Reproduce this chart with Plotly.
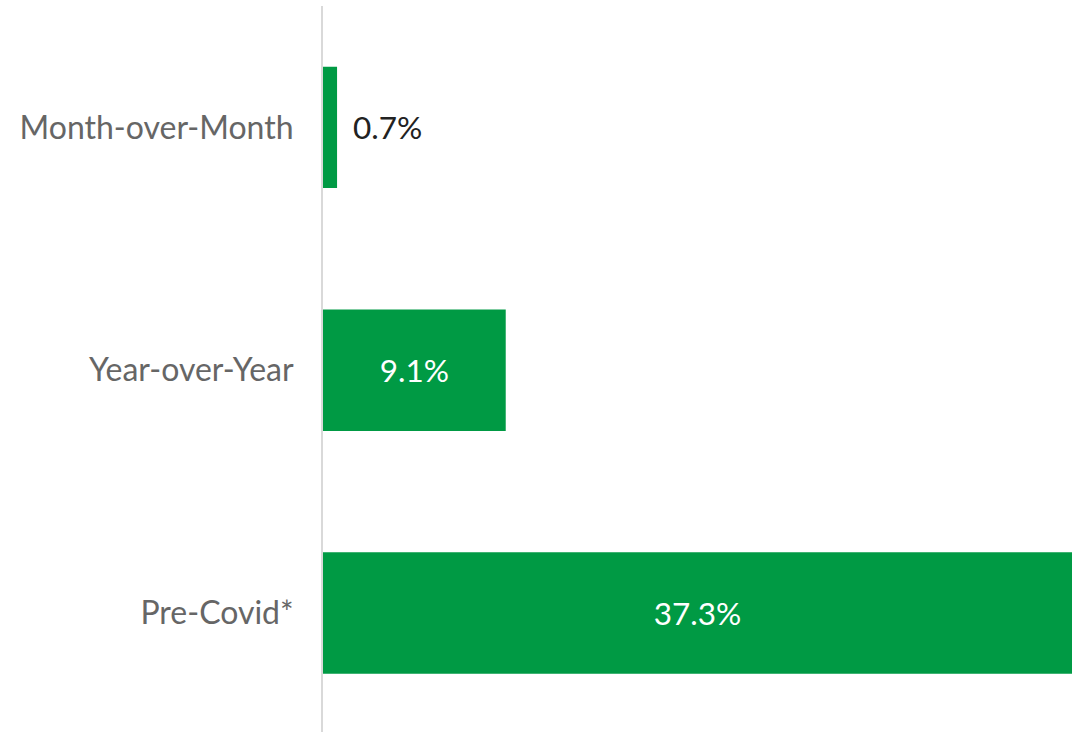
import plotly.graph_objects as go

categories = ["Month-over-Month", "Year-over-Year", "Pre-Covid*"]
values = [0.7, 9.1, 37.3]
labels = ["0.7%", "9.1%", "37.3%"]

GREEN = "#009A44"
FONT = "Lato, 'Open Sans', sans-serif"

inside_threshold = 3
text_in = [l if v >= inside_threshold else "" for v, l in zip(values, labels)]

fig = go.Figure()
fig.add_trace(go.Bar(
    y=categories,
    x=values,
    orientation="h",
    marker=dict(color=GREEN, line=dict(width=0)),
    width=0.5,
    text=text_in,
    textposition="inside",
    insidetextanchor="middle",
    textfont=dict(family=FONT, size=31.5, color="white"),
    hoverinfo="skip",
    cliponaxis=False,
))

for c, v, l in zip(categories, values, labels):
    if v < inside_threshold:
        fig.add_annotation(
            x=v, y=c, text=l, showarrow=False, xanchor="left", xshift=14,
            font=dict(family=FONT, size=31.5, color="#222222"),
        )

fig.update_layout(
    width=1084,
    height=732,
    margin=dict(l=323, r=12, t=6, b=0),
    plot_bgcolor="white",
    paper_bgcolor="white",
    showlegend=False,
    bargap=0.5,
    xaxis=dict(
        range=[0, 37.3],
        showgrid=False,
        zeroline=False,
        showticklabels=False,
        showline=False,
        ticks="",
    ),
    yaxis=dict(
        range=[2.49, -0.5],
        showgrid=False,
        zeroline=False,
        showline=True,
        linecolor="#d9d9d9",
        linewidth=2,
        ticks="",
        ticklabelstandoff=21,
        tickfont=dict(family=FONT, size=32, color="#666666"),
    ),
)

fig.write_html(
    "out.html",
    config={"displayModeBar": False, "staticPlot": True},
    post_script="document.body.style.margin='0';document.body.style.overflow='hidden';",
)
